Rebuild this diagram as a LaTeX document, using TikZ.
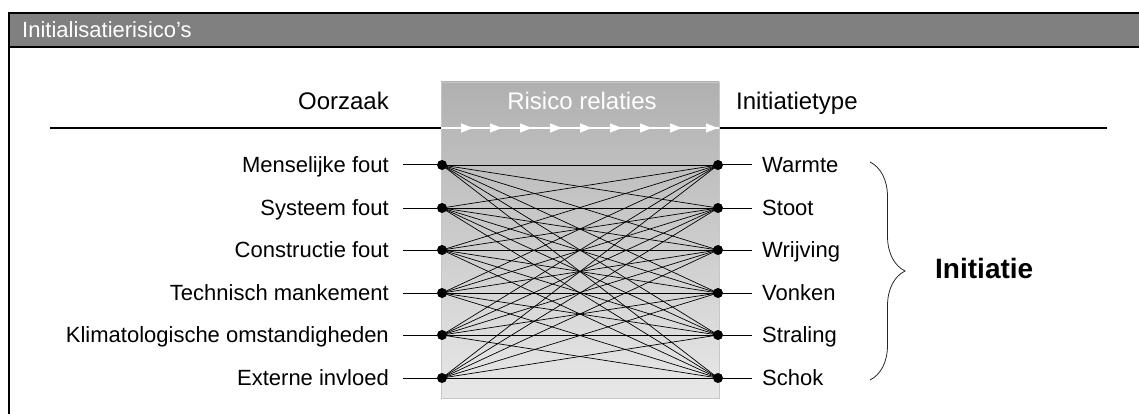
\documentclass[tikz,border=0pt]{standalone}
\usepackage{fontspec}
\setmainfont{Liberation Sans}
\usetikzlibrary{arrows.meta,decorations.pathreplacing}

\tikzset{
  dot/.style={circle,fill=black,inner sep=0pt,minimum size=10pt},
  lbl/.style={inner ysep=0pt,text height=15.8pt,text depth=0pt,font=\fontsize{22}{26}\selectfont},
  cause/.style={lbl,anchor=east,inner xsep=14pt},
  itype/.style={lbl,anchor=west,inner xsep=10pt},
  head/.style={inner sep=0pt,text height=17.2pt,text depth=0pt,font=\fontsize{24}{28}\selectfont},
  stub/.style={line width=1pt},
  relation/.style={line width=0.7pt}
}

\begin{document}
\begin{tikzpicture}[x=1pt,y=-1pt]
    \useasboundingbox (0,0) rectangle (1139,414);
    % Draw the frame and the title bar
    \fill[black!50] (9,13) rectangle (1145,47);
    \draw[line width=2pt] (9,430) -- (9,13) -- (1145,13);
    \draw[line width=2pt] (9,47) -- (1145,47);
    \node[anchor=west,text=white,inner sep=0pt,font=\fontsize{22}{26}\selectfont] (title) at (22,30) {Initialisatierisico’s};
    % Draw the header line and the column heads
    \draw[line width=2pt] (50,128) -- (1107,128);
    \node[head,anchor=east] (oorzaak) at (389,101) {Oorzaak};
    \node[head,anchor=west] (itypehead) at (736,101) {Initiatietype};
    % Draw the box of the relations
    \shade[top color=black!31,bottom color=black!9] (441,82) rectangle (719,398);
    \draw[black!22] (441,82) rectangle (719,398);
    \node[head,text=white] (relaties) at (582,101) {Risico relaties};
    \draw[white,line width=1.5pt] (441,128) -- (719,128);
    \foreach \x in {473,502,532,562,592,622,652,682,718}{
      \draw[white,line width=1.5pt,-{Triangle[length=12pt,width=9pt]}] (\x-12,128) -- (\x,128);
    }
    % Draw the causes and the initiation types
    \foreach \n/\y/\c/\t in {1/165/Menselijke fout/Warmte, 2/208/Systeem fout/Stoot,
        3/250/Constructie fout/Wrijving, 4/293/Technisch mankement/Vonken,
        5/335/Klimatologische omstandigheden/Straling, 6/378/Externe invloed/Schok}{
      \node[dot] (c\n) at (442,\y) {};
      \node[dot] (i\n) at (718,\y) {};
      \node[cause] (lc\n) at (403,\y) {\c};
      \node[itype] (li\n) at (752,\y) {\t};
      \draw[stub] (lc\n) -- (c\n);
      \draw[stub] (i\n) -- (li\n);
    }
    % Draw the relations
    \foreach \a in {1,...,6}{
      \foreach \b in {1,...,6}{
        \draw[relation] (c\a.center) -- (i\b.center);
      }
    }
    % Draw the brace and its label
    \draw[decorate,decoration={brace,amplitude=35pt},line width=0.8pt,black!85] (870,162) -- (870,380);
    \node[anchor=west,inner sep=0pt,font=\bfseries\fontsize{28}{32}\selectfont] (initiatie) at (935,268) {Initiatie};
\end{tikzpicture}
\end{document}
